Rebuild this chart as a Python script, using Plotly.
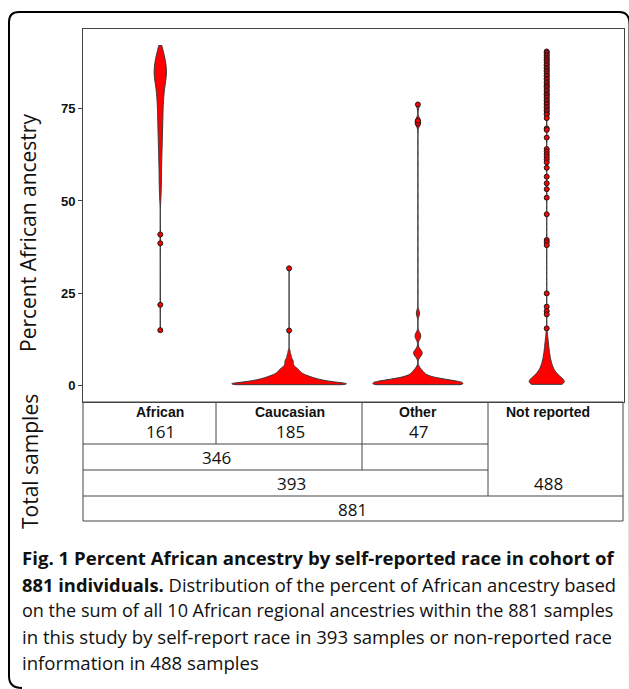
import numpy as np
import plotly.graph_objects as go

W, H = 629, 689

# ---------------- data ----------------
categories = ["African", "Caucasian", "Other", "Not reported"]
group_counts = [161, 185, 47, 488]
subtotal_af_cau = 346
subtotal_reported = 393
total_samples = 881
y_ticks = [0, 25, 50, 75]

# African (percent African ancestry): value levels and how many samples at each
african_levels = [92.2, 90.5, 88.5, 86.5, 84.5, 82.5, 80.5, 78.5, 76.5, 74.5, 72.5, 70.5,
                  68.5, 66.5, 64.5, 62.5, 60.5, 58.5, 56.5, 54.5, 52.5, 50.5]
african_counts = [3, 8, 13, 16, 17, 14, 11, 9, 8, 7, 7, 6, 6, 5, 5, 4, 4, 3, 3, 3, 2, 2]
african_points = [40.9, 38.5, 21.8, 14.9]

caucasian_levels = [0.1, 0.5, 0.9, 1.3, 1.7, 2.1, 2.5, 2.9, 3.3, 3.7, 4.1, 4.5, 4.9,
                    5.3, 5.7, 6.1, 6.5, 6.9, 7.3, 7.7, 8.1, 8.5, 9.3]
caucasian_counts = [44, 25, 20, 16, 13, 11, 9, 7, 6, 5, 5, 4, 3,
                    2, 2, 2, 2, 2, 1, 1, 1, 1, 1]
caucasian_points = [14.8, 31.7]

other_levels = [0.1, 0.5, 1.0, 1.5, 2.2, 3.0, 3.8, 8.3, 8.9, 13.0, 13.6, 19.5]
other_counts = [14, 10, 6, 3, 2, 1, 2, 1, 2, 1, 1, 1]
other_points = [71.0, 71.8, 76.2]

notrep_levels = [0.2, 1.2, 2.2, 3.2, 4.2, 5.2, 6.2, 7.2, 8.2, 9.2, 10.2, 11.2, 12.2, 13.2, 14.2]
notrep_counts = [104, 80, 58, 39, 30, 24, 19, 16, 13, 11, 9, 8, 6, 4, 3]
notrep_points = [90.6, 90.3, 89.8, 89.4, 88.9, 88.5, 88.1, 87.6, 87.1, 86.8, 86.2, 85.9,
                 85.4, 85.1, 84.6, 84.1, 83.8, 83.2, 82.9, 82.3, 82.0, 81.4, 81.1, 80.7,
                 80.1, 79.8, 79.2, 78.9, 78.5, 78.0, 77.4, 77.1, 76.5, 76.2, 75.6, 75.3,
                 74.7, 74.4, 73.8, 73.4, 72.5, 69.7, 69.3, 67.2, 64.1, 63.4, 62.7, 62.0,
                 61.3, 60.5, 59.0, 56.6, 54.8, 53.2, 50.9, 46.4, 39.4, 38.8, 38.0, 24.9,
                 21.3, 20.1, 19.2, 15.4]

groups = [
    (african_levels, african_counts, african_points),
    (caucasian_levels, caucasian_counts, caucasian_points),
    (other_levels, other_counts, other_points),
    (notrep_levels, notrep_counts, notrep_points),
]

caption_lines = [
    "<b>Fig. 1 Percent African ancestry by self-reported race in cohort of</b>",
    "<b>881 individuals.</b> Distribution of the percent of African ancestry based",
    "on the sum of all 10 African regional ancestries within the 881 samples",
    "in this study by self-report race in 393 samples or non-reported race",
    "information in 488 samples",
]

# ---------------- style ----------------
bandwidths = [1.6, 0.4, 0.9, 1.0]
violin_widths = [0.095, 0.89, 0.70, 0.272]
RED = "rgb(255,0,0)"
EDGE = "rgb(55,55,55)"
GRID = "#444444"
SANS = "Open Sans, Noto Sans, sans-serif"
ARIAL = "Liberation Sans, Arial, sans-serif"

fig = go.Figure()
for cat, (lv, ct, pts), bw, wd in zip(categories, groups, bandwidths, violin_widths):
    vals = list(np.repeat(lv, ct)) + list(pts)
    fig.add_trace(go.Violin(
        x=[cat] * len(vals), y=vals, name=cat,
        spanmode="hard", bandwidth=bw, scalemode="width", width=wd,
        fillcolor=RED, line=dict(color=EDGE, width=1), opacity=1,
        points=False, showlegend=False, hoverinfo="skip"))
for cat, (lv, ct, pts) in zip(categories, groups):
    fig.add_trace(go.Scatter(
        x=[cat] * len(pts), y=pts, mode="markers", showlegend=False, hoverinfo="skip",
        marker=dict(size=5, color=RED, line=dict(color="#1a1a1a", width=1))))


def px(x):
    return x / W


def py(y):
    return 1 - y / H


PLOT_L, PLOT_R, PLOT_T, PLOT_B = 83, 624, 29, 402

fig.update_layout(
    width=W, height=H, margin=dict(l=0, r=0, t=0, b=0),
    paper_bgcolor="white", plot_bgcolor="white",
    violinmode="overlay", showlegend=False,
    xaxis=dict(domain=[px(PLOT_L), px(PLOT_R)], type="category",
               categoryorder="array", categoryarray=categories,
               range=[-0.6, 3.6], showticklabels=False, ticks="",
               showline=True, mirror=True, linecolor=GRID, linewidth=1,
               showgrid=False, zeroline=False, fixedrange=True),
    yaxis=dict(domain=[py(PLOT_B), py(PLOT_T)], range=[-4.6, 96.7],
               tickvals=y_ticks, ticks="outside", ticklen=4, tickcolor=GRID,
               tickfont=dict(family=ARIAL, size=13, color="#111111", weight="bold"),
               showline=True, mirror=True, linecolor=GRID, linewidth=1,
               showgrid=False, zeroline=False, fixedrange=True),
)

shapes = []


def hline(x0, x1, y):
    shapes.append(dict(type="line", xref="paper", yref="paper",
                       x0=px(x0), x1=px(x1), y0=py(y), y1=py(y),
                       line=dict(color=GRID, width=1)))


def vline(x, y0, y1):
    shapes.append(dict(type="line", xref="paper", yref="paper",
                       x0=px(x), x1=px(x), y0=py(y0), y1=py(y1),
                       line=dict(color=GRID, width=1)))


# table grid
hline(83, 623, 402)
hline(83, 488, 444)
hline(83, 488, 470)
hline(83, 623, 496)
hline(83, 623, 521)
vline(83, 402, 521)
vline(216, 402, 444)
vline(362, 402, 470)
vline(488, 402, 496)
vline(623, 402, 521)

# outer rounded frame
path = (f"M {px(22)},{py(688)} Q {px(9)},{py(688)} {px(9)},{py(676)} "
        f"L {px(9)},{py(22)} "
        f"Q {px(9)},{py(12)} {px(19)},{py(12)} "
        f"L {px(619)},{py(12)} Q {px(629.5)},{py(12)} {px(629.5)},{py(24)} "
        f"L {px(630)},{py(689)}")
shapes.append(dict(type="path", xref="paper", yref="paper", path=path,
                   line=dict(color="black", width=2)))
fig.update_layout(shapes=shapes)

ann = []


def text(t, x, y, size, family=SANS, bold=False, xanchor="center", angle=0, color="#111111"):
    ann.append(dict(text=t, x=px(x), y=py(y), xref="paper", yref="paper",
                    xanchor=xanchor, yanchor="middle", showarrow=False, textangle=angle,
                    font=dict(family=family, size=size, color=color,
                              weight="bold" if bold else "normal")))


centers = [160, 290, 418, 548]
for c, xc in zip(categories, centers):
    text(c, xc, 412, 14, family=ARIAL, bold=True)
for n, xc in zip(group_counts[:3], centers[:3]):
    text(str(n), xc, 431, 17)
text(str(subtotal_af_cau), 216, 457, 17)
text(str(subtotal_reported), 291, 483, 17)
text(str(group_counts[3]), 548, 483, 17)
text(str(total_samples), 352, 509, 17)

text("Percent African ancestry", 28, 233, 21, angle=-90)
text("Total samples", 30, 462, 21, angle=-90)

caption_sizes = [18.6, 18.35, 18.05, 18.6, 18.6]
for line, yy, fs in zip(caption_lines, [557, 584, 610, 636, 662], caption_sizes):
    text(line, 20, yy, fs, xanchor="left", color="#111111")

fig.update_layout(annotations=ann)
fig.write_html("out.html", config={"displayModeBar": False},
               post_script="document.body.style.margin='0';document.body.style.overflow='hidden';")
